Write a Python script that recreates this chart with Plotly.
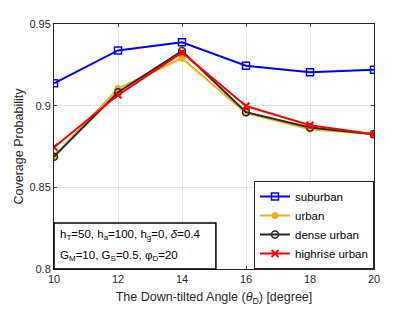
import plotly.graph_objects as go

angles = [10, 12, 14, 16, 18, 20]
suburban = [0.9137, 0.9338, 0.9388, 0.9245, 0.9205, 0.9220]
urban = [0.8690, 0.9105, 0.9290, 0.8955, 0.8855, 0.8825]
dense_urban = [0.8688, 0.9082, 0.9335, 0.8960, 0.8867, 0.8825]
highrise_urban = [0.8745, 0.9065, 0.9325, 0.8998, 0.8880, 0.8825]

x_ticks = [10, 12, 14, 16, 18, 20]
y_ticks = [0.8, 0.85, 0.9, 0.95]
y_tick_labels = ["0.8", "0.85", "0.9", "0.95"]

font = "Liberation Sans, Arial, sans-serif"

fig = go.Figure()
fig.add_trace(go.Scatter(x=angles, y=suburban, name="suburban", mode="lines+markers",
                         line=dict(color="#0000FF", width=2),
                         marker=dict(symbol="square-open", size=7, color="#0000FF", line=dict(width=1.5))))
fig.add_trace(go.Scatter(x=angles, y=urban, name="urban", mode="lines+markers",
                         line=dict(color="#EDB120", width=2),
                         marker=dict(symbol="circle", size=7, color="#EDB120")))
fig.add_trace(go.Scatter(x=angles, y=dense_urban, name="dense urban", mode="lines+markers",
                         line=dict(color="#262626", width=2),
                         marker=dict(symbol="circle-open", size=7, color="#262626", line=dict(width=1.5))))
fig.add_trace(go.Scatter(x=angles, y=highrise_urban, name="highrise urban", mode="lines+markers",
                         line=dict(color="#FF0000", width=2),
                         marker=dict(symbol="x-thin-open", size=7, color="#FF0000", line=dict(width=2, color="#FF0000"))))

# page body adds an 8px offset, so the figure is sized to fit inside the window
fig.update_layout(
    width=407, height=304,
    margin=dict(l=46, r=41, t=16, b=43, autoexpand=False),
    paper_bgcolor="white", plot_bgcolor="white",
    font=dict(family=font, size=11, color="#262626"),
    showlegend=True,
    legend=dict(x=1, y=0, xanchor="right", yanchor="bottom",
                bordercolor="#262626", borderwidth=1, bgcolor="white",
                font=dict(size=11.5, color="#000000"), tracegroupgap=0, itemwidth=30),
    xaxis=dict(range=[10, 20], tickvals=x_ticks, ticks="inside", ticklen=3, automargin=False,
               showline=True, linecolor="#262626", linewidth=1, mirror="ticks",
               showgrid=True, gridcolor="#E3E3E3", zeroline=False,
               title=dict(text="The Down-tilted Angle (<i>θ</i><sub>D</sub>) [degree]", font=dict(size=12.5), standoff=8),
               tickfont=dict(size=11)),
    yaxis=dict(range=[0.8, 0.95], tickvals=y_ticks, ticktext=y_tick_labels, ticks="inside", ticklen=3, automargin=False,
               showline=True, linecolor="#262626", linewidth=1, mirror="ticks",
               showgrid=True, gridcolor="#E3E3E3", zeroline=False,
               title=dict(text="Coverage Probability", font=dict(size=12.5), standoff=3),
               tickfont=dict(size=11)),
)

# parameter box
fig.add_shape(type="rect", xref="paper", yref="paper", x0=0, x1=0.506, y0=0, y1=0.188,
              line=dict(color="#000000", width=1.5), fillcolor="white", layer="above")
fig.add_annotation(xref="paper", yref="paper", x=0.012, y=0.139, xanchor="left", yanchor="middle",
                   text="h<sub>T</sub>=50, h<sub>a</sub>=100, h<sub>g</sub>=0, <i>δ</i>=0.4",
                   showarrow=False, align="left", font=dict(size=11.5, color="#000000"))
fig.add_annotation(xref="paper", yref="paper", x=0.012, y=0.055, xanchor="left", yanchor="middle",
                   text="G<sub>M</sub>=10, G<sub>S</sub>=0.5, φ<sub>D</sub>=20",
                   showarrow=False, align="left", font=dict(size=11.5, color="#000000"))

fig.write_html("out.html")
